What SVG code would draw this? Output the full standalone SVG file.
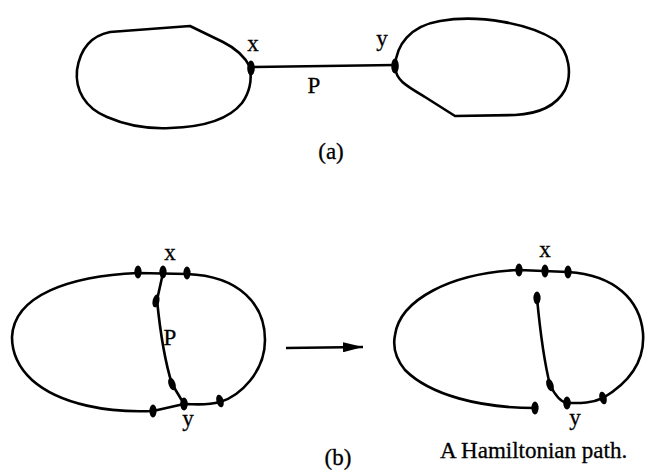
<svg xmlns="http://www.w3.org/2000/svg" width="645" height="470" viewBox="0 0 645 470">
<style>
.e{fill:none;stroke:#000;stroke-width:2.6;stroke-linejoin:round;stroke-linecap:round}
.n{fill:#000}
text{font-family:"Liberation Serif","Times New Roman",serif;font-size:23px;fill:#000;stroke:#000;stroke-width:0.3}
</style>
<defs>
<marker id="ah" viewBox="0 0 20 10" refX="20" refY="5" markerWidth="20" markerHeight="10" markerUnits="userSpaceOnUse" orient="auto">
<path d="M0,0 L20,5 L0,10 Z" fill="#000"/>
</marker>
</defs>
<rect width="645" height="470" fill="#fff"/>
<g id="connectors">
<path class="e" d="M251,67 L395,65"/>
<path class="e" d="M163,273 L157,300 C160,330 165,362 172,384 L184,404"/>
<path class="e" d="M537,298 C540,330 545,365 550,385 C555,395 560,402 567,403"/>
<path d="M286,348 L363,347" stroke="#000" stroke-width="2.4" marker-end="url(#ah)"/>
</g>
<g id="blob-a-left">
<path class="e" d="M250,67 C245,57 235,48 223,42 L190,26 L110,32 C90,36 80,50 77,70 C75,90 85,108 107,117 C130,127 150,129 170,128 C205,127 230,118 242,103 C250,92 252,80 250,67 Z"/>
</g>
<g id="blob-a-right">
<path class="e" d="M395,67 C396,45 410,26 440,21 C480,14 530,24 555,40 C570,52 572,75 565,90 C555,108 535,114 515,115 L455,116 L425,97 C405,85 396,80 395,67 Z"/>
</g>
<g id="node-a-x"><ellipse class="n" cx="251" cy="68" rx="3.8" ry="7.5"/><text x="253" y="51" text-anchor="middle">x</text></g>
<g id="node-a-y"><ellipse class="n" cx="395" cy="66" rx="3.8" ry="7.5"/><text x="382" y="46" text-anchor="middle">y</text></g>
<text x="314" y="93" text-anchor="middle">P</text>
<text x="331" y="159" text-anchor="middle">(a)</text>
<g id="cycle-b-left">
<path class="e" d="M12,337 C14,295 70,276 138,273 L187,274 C240,276 265,305 265,340 C265,372 240,396 220,402 C205,406 195,404 184,404 L153,411 C110,413 60,405 32,380 C18,367 12,352 12,337 Z"/>
<ellipse class="n" cx="138" cy="272" rx="3.6" ry="6.5"/>
<ellipse class="n" cx="163" cy="272" rx="3.6" ry="6.5"/>
<ellipse class="n" cx="187" cy="273" rx="3.6" ry="6.5"/>
<ellipse class="n" cx="156" cy="301" rx="3.4" ry="6.5" transform="rotate(12 156 301)"/>
<ellipse class="n" cx="172" cy="384" rx="3.4" ry="6.5" transform="rotate(-20 172 384)"/>
<ellipse class="n" cx="184" cy="404" rx="3.8" ry="6.5"/>
<ellipse class="n" cx="153" cy="411" rx="3.6" ry="6.5"/>
<ellipse class="n" cx="220" cy="401" rx="3.6" ry="6.5" transform="rotate(-15 220 401)"/>
<text x="170" y="260" text-anchor="middle">x</text>
<text x="170" y="345" text-anchor="middle">P</text>
<text x="188" y="426" text-anchor="middle">y</text>
</g>
<g id="path-b-right">
<path class="e" d="M535,408 C480,408 430,395 405,370 C395,358 393,345 395,335 C400,300 450,273 519,270 L568,272 C615,275 640,300 643,333 C645,360 630,382 603,398 C590,404 578,403 567,403"/>
<ellipse class="n" cx="519" cy="270" rx="3.6" ry="6.5"/>
<ellipse class="n" cx="545" cy="271" rx="3.6" ry="6.5"/>
<ellipse class="n" cx="568" cy="272" rx="3.6" ry="6.5"/>
<ellipse class="n" cx="537" cy="298" rx="3.6" ry="6.5"/>
<ellipse class="n" cx="550" cy="385" rx="3.4" ry="6.5" transform="rotate(-20 550 385)"/>
<ellipse class="n" cx="567" cy="403" rx="3.8" ry="6.5"/>
<ellipse class="n" cx="603" cy="398" rx="3.6" ry="6.5" transform="rotate(-15 603 398)"/>
<ellipse class="n" cx="535" cy="408" rx="3.6" ry="6.5"/>
<text x="545" y="257" text-anchor="middle">x</text>
<text x="575" y="425" text-anchor="middle">y</text>
</g>
<text x="338" y="465" text-anchor="middle">(b)</text>
<text x="440" y="458" font-size="24">A Hamiltonian path.</text>
</svg>
